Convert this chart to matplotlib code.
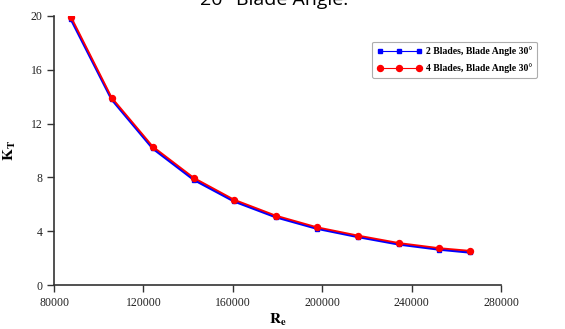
import matplotlib.pyplot as plt

# Reynolds numbers and thrust coefficients
re_values = [87600, 105800, 124200, 142600, 160600, 179200, 197500, 215900, 234400, 252400, 266300]
kt_2_blades = [19.75, 13.8, 10.15, 7.82, 6.22, 5.05, 4.2, 3.58, 3.02, 2.64, 2.42]
kt_4_blades = [19.93, 13.93, 10.29, 7.96, 6.34, 5.16, 4.3, 3.68, 3.12, 2.74, 2.54]

labels = ["2 Blades, Blade Angle 30\u00b0", "4 Blades, Blade Angle 30\u00b0"]
x_ticks = [80000, 120000, 160000, 200000, 240000, 280000]
y_ticks = [0, 4, 8, 12, 16, 20]

plt.rcParams['font.family'] = ['Liberation Serif', 'DejaVu Serif']
plt.rcParams['mathtext.fontset'] = 'stix'

fig = plt.figure(figsize=(5.65, 3.29), dpi=100)
ax = fig.add_axes([0.0956, 0.1337, 0.7911, 0.8177])

ax.plot(re_values, kt_2_blades, color='#0000ff', lw=1.8, marker='s', ms=3,
        label=labels[0], zorder=3)
ax.plot(re_values, kt_4_blades, color='#ff0000', lw=1.3, marker='o', ms=4.3,
        label=labels[1], zorder=4)

ax.set_xlim(80000, 280000)
ax.set_ylim(0, 20)
ax.set_xticks(x_ticks)
ax.set_yticks(y_ticks)
ax.tick_params(direction='out', length=5, width=1, colors='#333333',
               labelsize=8.5, labelcolor='#222222')

for side in ['top', 'right']:
    ax.spines[side].set_visible(False)
for side in ['left', 'bottom']:
    ax.spines[side].set_color('#333333')
    ax.spines[side].set_linewidth(1.2)

ax.set_xlabel(r'$\mathbf{R_e}$', fontsize=11, labelpad=2)
ax.set_ylabel(r'$\mathbf{K_T}$', fontsize=11, labelpad=9)

leg = ax.legend(loc='upper right', bbox_to_anchor=(1.08, 0.905), numpoints=3,
                prop={'size': 7, 'weight': 'bold'}, handlelength=4.6,
                handletextpad=0.4, frameon=True, fancybox=True,
                edgecolor='#999999', borderpad=0.5, labelspacing=0.75,
                borderaxespad=0)
leg.get_frame().set_linewidth(0.8)
for line in leg.get_lines():
    line.set_linewidth(0.8)

# title is cut off at the top of the image
fig.text(0.485, 1.0, "20\u00b0 Blade Angle.", family='Open Sans', fontsize=14,
         ha='center', va='center')

fig.savefig('out.png', dpi=100)
